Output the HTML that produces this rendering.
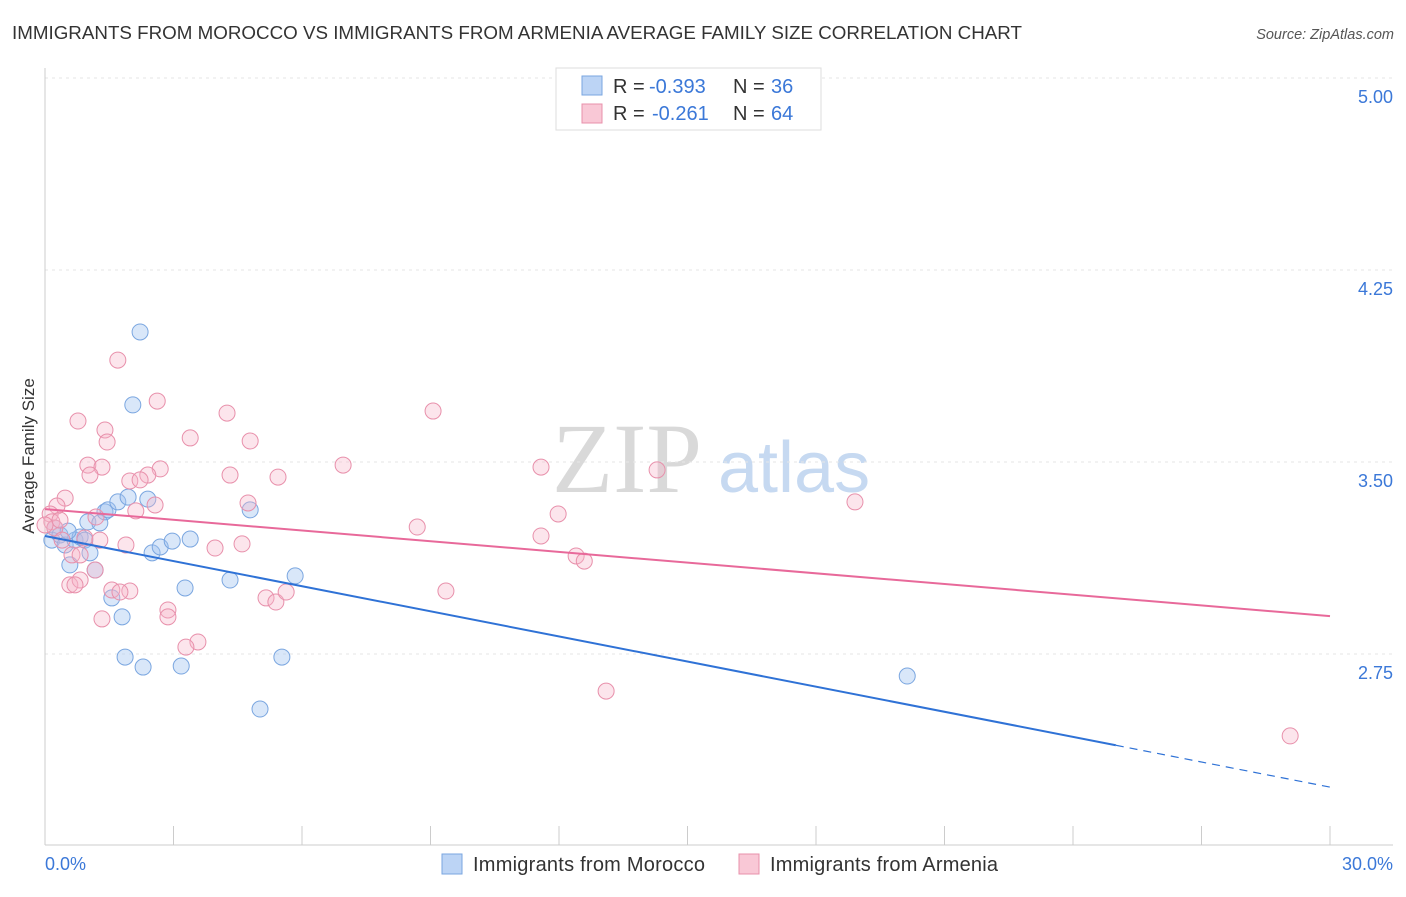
<!DOCTYPE html>
<html><head><meta charset="utf-8"><style>
body{margin:0;background:#fff;font-family:"Liberation Sans",sans-serif;}
svg text{font-family:"Liberation Sans",sans-serif;}
</style></head><body>
<svg id="c" width="1406" height="892" xmlns="http://www.w3.org/2000/svg">
<text x="12" y="39" font-size="18" fill="#333" textLength="1010" lengthAdjust="spacingAndGlyphs">IMMIGRANTS FROM MOROCCO VS IMMIGRANTS FROM ARMENIA AVERAGE FAMILY SIZE CORRELATION CHART</text>
<text x="1394" y="39" font-size="14.5" fill="#555" font-style="italic" text-anchor="end">Source: ZipAtlas.com</text>
<g>
<text x="552" y="492" font-size="100" fill="#d9d9d9" style="font-family:'Liberation Serif',serif">ZIP</text>
<text x="718" y="492" font-size="72" fill="#c6d9f1">atlas</text>
</g>
<g id="grid"></g><g id="axes"></g><g id="pts"></g><g id="trend"></g>
<text x="34" y="456" font-size="17" fill="#333" text-anchor="middle" transform="rotate(-90 34 456)">Average Family Size</text>
<g>
<rect x="556" y="68" width="265" height="62" fill="#fff" stroke="#ddd"/>
<rect x="582" y="76" width="20" height="19" fill="#bcd4f5" stroke="#7aa6e0"/>
<rect x="582" y="104" width="20" height="19" fill="#f9c8d6" stroke="#e890ab"/>
<text x="613" y="93" font-size="20" fill="#333">R = <tspan x="649" fill="#3b78d8">-0.393</tspan></text>
<text x="733" y="93" font-size="20" fill="#333">N = <tspan x="771" fill="#3b78d8">36</tspan></text>
<text x="613" y="120" font-size="20" fill="#333">R = <tspan x="652" fill="#3b78d8">-0.261</tspan></text>
<text x="733" y="120" font-size="20" fill="#333">N = <tspan x="771" fill="#3b78d8">64</tspan></text>
</g>
<g>
<rect x="442" y="854" width="20" height="20" fill="#bcd4f5" stroke="#7aa6e0"/>
<text x="473" y="871" font-size="20" fill="#333" textLength="232">Immigrants from Morocco</text>
<rect x="739" y="854" width="20" height="20" fill="#f9c8d6" stroke="#e890ab"/>
<text x="770" y="871" font-size="20" fill="#333" textLength="228">Immigrants from Armenia</text>
</g>
</svg>
<script>
const yTicks=[5.00,4.25,3.50,2.75];
const xTickLabels=["0.0%","30.0%"];
const moroccoX=[2.22,2.05,0.23,0.16,0.35,0.47,0.58,0.70,0.82,0.93,1.05,1.00,1.17,1.28,1.40,1.47,1.56,1.70,1.80,1.94,1.87,2.29,2.40,2.50,2.69,2.97,3.27,3.18,3.39,4.32,4.79,5.02,5.53,5.84,20.13,0.54];
const moroccoY=[4.008,3.723,3.242,3.195,3.215,3.176,3.098,3.195,3.207,3.195,3.145,3.266,3.078,3.262,3.305,3.313,2.969,3.344,2.895,3.363,2.738,2.699,3.355,3.145,3.168,3.191,3.008,2.703,3.199,3.039,3.313,2.535,2.738,3.055,2.664,3.230];
const armeniaX=[1.70,2.62,0.77,4.25,9.06,1.40,1.45,3.39,4.79,1.00,1.33,2.69,2.40,1.98,1.05,2.22,4.32,5.44,6.96,11.58,14.29,0.47,0.28,2.57,4.74,18.91,2.12,1.19,0.12,0.16,0.23,8.69,11.98,11.58,1.89,3.97,4.60,12.40,12.59,0.63,0.82,0.58,0.82,1.17,1.56,1.98,2.87,2.87,1.33,5.16,5.39,5.63,9.36,3.57,3.29,13.10,29.07,0.35,0.93,0.70,1.75,0.40,1.28,0.00];
const armeniaY=[3.898,3.738,3.660,3.691,3.699,3.625,3.578,3.594,3.582,3.488,3.480,3.473,3.449,3.426,3.449,3.430,3.449,3.441,3.488,3.480,3.469,3.359,3.328,3.332,3.340,3.344,3.309,3.285,3.297,3.266,3.242,3.246,3.297,3.211,3.176,3.164,3.180,3.133,3.113,3.137,3.137,3.020,3.039,3.078,3.000,2.996,2.922,2.895,2.887,2.969,2.953,2.992,2.996,2.797,2.777,2.605,2.430,3.273,3.203,3.020,2.992,3.195,3.195,3.254];
const moroccoTrend=[3.211,2.230];
const armeniaTrend=[3.316,2.898];
const moroccoSolidEnd=25;

const NS="http://www.w3.org/2000/svg";
const X=v=>45+v/30*1285;
const Y=v=>78+(5-v)*256;
function mk(tag,attrs,parent){const e=document.createElementNS(NS,tag);for(const k in attrs)e.setAttribute(k,attrs[k]);document.getElementById(parent).appendChild(e);return e;}
yTicks.forEach(t=>{
 const l=mk('line',{x1:45,x2:1393,y1:Y(t),y2:Y(t),stroke:'#e6e6e6','stroke-dasharray':'3,4'},'grid');
 
 
 const tx=mk('text',{x:1393,y:Y(t)+25,'font-size':18,fill:'#3b78d8','text-anchor':'end'},'grid');
 tx.textContent=t.toFixed(2);
 
 
});
let a=mk('line',{x1:45,x2:45,y1:68,y2:845,stroke:'#ccc'},'axes');


a=mk('line',{x1:45,x2:1393,y1:845,y2:845,stroke:'#ccc'},'axes');


for(let i=0;i<=10;i++){
 const t=mk('line',{x1:X(i*3),x2:X(i*3),y1:826,y2:845,stroke:'#ccc'},'axes');
 
 
}
[[0,'start',45],[30,'end',1393]].forEach((d,i)=>{
 const t=mk('text',{x:d[2],y:870,'font-size':18,fill:'#3b78d8','text-anchor':d[1]},'axes');
 t.textContent=xTickLabels[i];
 
 
});
moroccoX.forEach((x,i)=>{
 const c=mk('circle',{cx:X(x),cy:Y(moroccoY[i]),r:8,fill:'rgba(160,195,240,0.4)',stroke:'#7aa6e0','stroke-width':1},'pts');
 
 
});
armeniaX.forEach((x,i)=>{
 const c=mk('circle',{cx:X(x),cy:Y(armeniaY[i]),r:8,fill:'rgba(245,180,200,0.35)',stroke:'#e890ab','stroke-width':1},'pts');
 
 
});
const bAt=x=>moroccoTrend[0]+(moroccoTrend[1]-moroccoTrend[0])*x/30;
let l=mk('line',{x1:X(0),y1:Y(bAt(0)),x2:X(moroccoSolidEnd),y2:Y(bAt(moroccoSolidEnd)),stroke:'#2f72d6','stroke-width':2},'trend');


l=mk('line',{x1:X(moroccoSolidEnd),y1:Y(bAt(moroccoSolidEnd)),x2:X(30),y2:Y(bAt(30)),stroke:'#2f72d6','stroke-width':1.2,'stroke-dasharray':'8,6'},'trend');


l=mk('line',{x1:X(0),y1:Y(armeniaTrend[0]),x2:X(30),y2:Y(armeniaTrend[1]),stroke:'#e8699a','stroke-width':2},'trend');


</script>
</body></html>
